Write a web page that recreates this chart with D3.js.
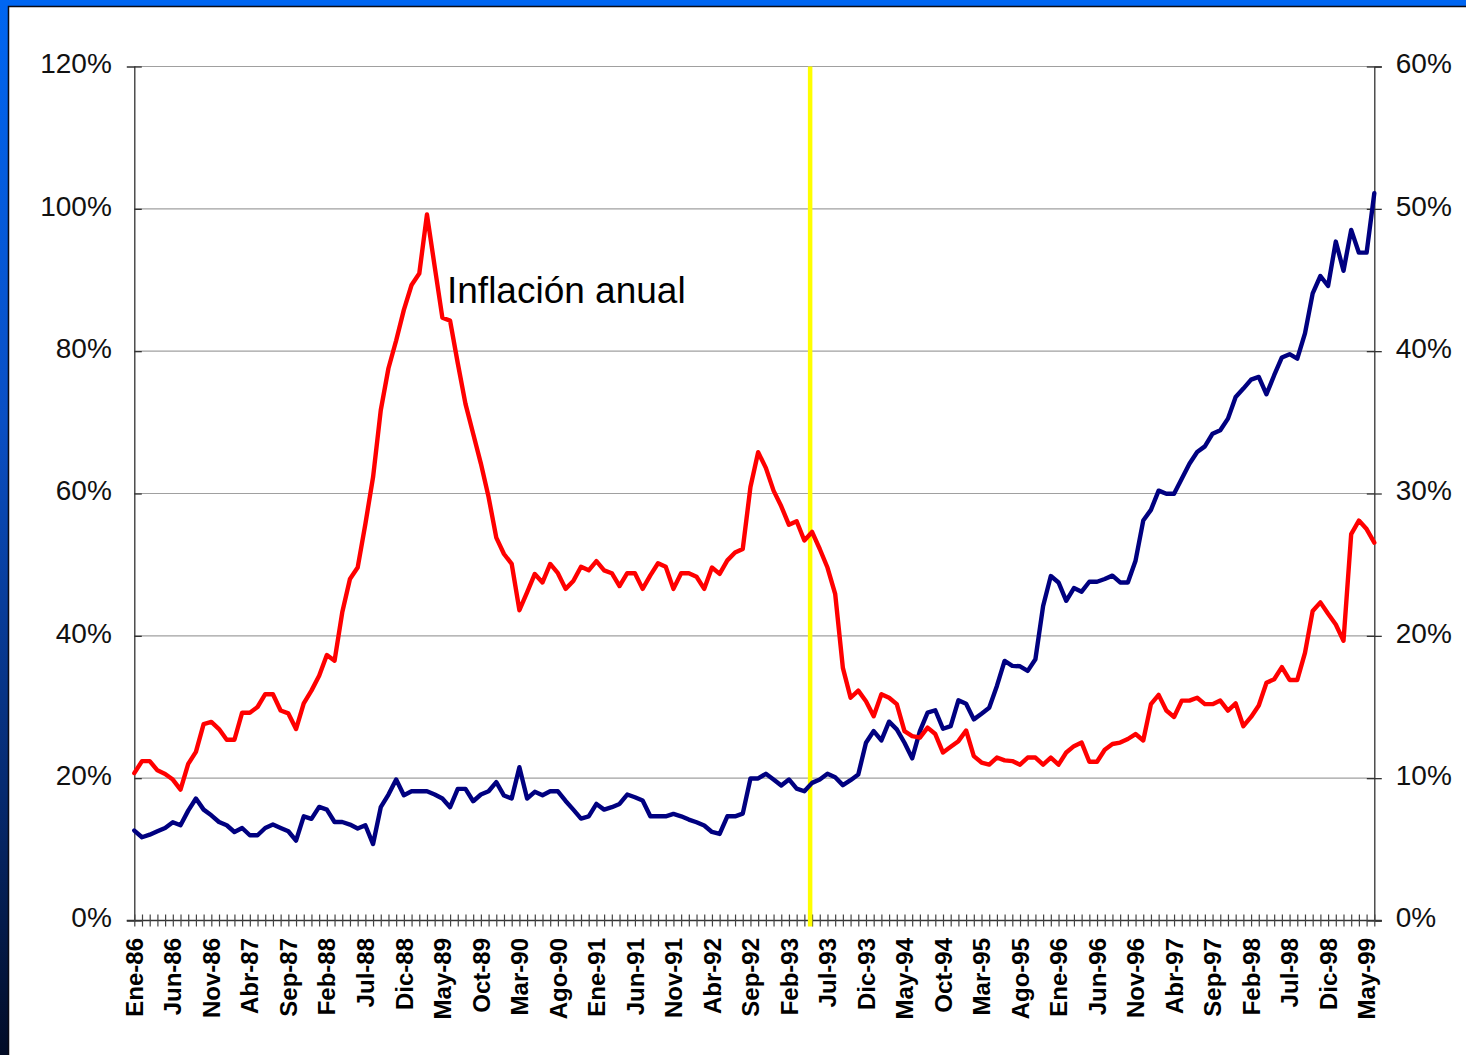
<!DOCTYPE html>
<html>
<head>
<meta charset="utf-8">
<script src="https://cdn.jsdelivr.net/npm/d3@7/dist/d3.min.js"></script>
<style>
  html, body { margin: 0; padding: 0; background: #fff; }
  svg { display: block; }
</style>
</head>
<body>
<svg id="chart" width="1466" height="1055"></svg>
<script>
// Month names (Spanish) used to build the monthly categories Ene-86 .. Jun-99
const monthNames = ["Ene","Feb","Mar","Abr","May","Jun","Jul","Ago","Sep","Oct","Nov","Dic"];
const firstYear = 1986, lastYear = 1999, lastMonthIndex = 5; // Jun-99

const categories = [];
for (let y = firstYear; y <= lastYear; y++) {
  for (let m = 0; m < 12; m++) {
    if (y === lastYear && m > lastMonthIndex) break;
    categories.push(monthNames[m] + "-" + String(y).slice(2));
  }
}

// Annual inflation, % (left axis)
const inflacionAnual = [
  20.7, 22.4, 22.4, 21.1, 20.6, 19.8, 18.4, 22.0, 23.7, 27.6,
  27.9, 26.9, 25.4, 25.4, 29.2, 29.2, 30.0, 31.8, 31.8, 29.5,
  29.1, 26.9, 30.5, 32.3, 34.4, 37.3, 36.5, 43.3, 48.0, 49.6,
  55.7, 62.3, 71.7, 77.6, 81.5, 85.8, 89.3, 90.9, 99.2, 91.9,
  84.7, 84.3, 78.3, 72.6, 68.4, 64.2, 59.5, 53.8, 51.5, 50.1,
  43.6, 46.1, 48.7, 47.5, 50.1, 48.8, 46.6, 47.7, 49.7, 49.2,
  50.5, 49.2, 48.8, 47.0, 48.8, 48.8, 46.6, 48.5, 50.2, 49.7,
  46.6, 48.8, 48.8, 48.3, 46.6, 49.6, 48.7, 50.6, 51.7, 52.2,
  60.9, 65.8, 63.6, 60.4, 58.2, 55.6, 56.1, 53.4, 54.6, 52.2,
  49.6, 45.9, 35.5, 31.3, 32.3, 30.8, 28.7, 31.8, 31.3, 30.4,
  26.6, 25.9, 25.7, 27.1, 26.2, 23.6, 24.4, 25.2, 26.7, 23.1,
  22.2, 21.9, 22.9, 22.5, 22.4, 21.9, 22.9, 22.9, 21.9, 22.9,
  21.9, 23.6, 24.5, 25.0, 22.3, 22.3, 24.0, 24.8, 25.0, 25.5,
  26.2, 25.3, 30.4, 31.7, 29.5, 28.6, 30.9, 30.9, 31.3, 30.4,
  30.4, 30.9, 29.5, 30.5, 27.3, 28.6, 30.2, 33.4, 33.9, 35.6,
  33.8, 33.8, 37.6, 43.5, 44.7, 43.1, 41.6, 39.3, 54.3, 56.2,
  55.0, 53.1
];

// Second series, % (right axis)
const serieDerecha = [
  6.32, 5.85, 6.03, 6.27, 6.50, 6.90, 6.69, 7.72, 8.57, 7.79,
  7.39, 6.92, 6.69, 6.22, 6.50, 5.99, 5.99, 6.50, 6.74, 6.50,
  6.27, 5.61, 7.32, 7.14, 7.98, 7.79, 6.92, 6.92, 6.74, 6.46,
  6.69, 5.37, 7.96, 8.85, 9.91, 8.80, 9.08, 9.08, 9.08, 8.85,
  8.57, 7.96, 9.25, 9.25, 8.38, 8.85, 9.08, 9.72, 8.78, 8.57,
  10.77, 8.57, 9.04, 8.80, 9.08, 9.08, 8.40, 7.79, 7.16, 7.32,
  8.19, 7.79, 7.96, 8.19, 8.85, 8.66, 8.43, 7.32, 7.32, 7.32,
  7.49, 7.32, 7.09, 6.90, 6.67, 6.22, 6.08, 7.32, 7.32, 7.51,
  9.98, 9.98, 10.31, 9.91, 9.48, 9.91, 9.27, 9.08, 9.67, 9.91,
  10.31, 10.07, 9.51, 9.86, 10.26, 12.49, 13.31, 12.65, 13.97, 13.43,
  12.49, 11.39, 13.31, 14.60, 14.77, 13.47, 13.66, 15.47, 15.23, 14.13,
  14.53, 14.95, 16.48, 18.24, 17.89, 17.86, 17.54, 18.36, 22.10, 24.20,
  23.75, 22.46, 23.36, 23.10, 23.80, 23.80, 23.99, 24.23, 23.75, 23.75,
  25.28, 28.10, 28.85, 30.20, 29.98, 29.98, 31.03, 32.09, 32.91, 33.31,
  34.20, 34.44, 35.26, 36.78, 37.37, 38.00, 38.19, 36.97, 38.31, 39.56,
  39.79, 39.48, 41.25, 44.06, 45.28, 44.58, 47.70, 45.65, 48.52, 46.92,
  46.92, 51.10
];

const leftTicks = [0, 20, 40, 60, 80, 100, 120];
const rightTicks = [0, 10, 20, 30, 40, 50, 60];
const labelStep = 5;            // every fifth month is labelled
const markerMonth = "May-93";   // vertical reference line
const markerShift = -0.25;      // fraction of a month step before markerMonth
const seriesLabel = "Inflación anual";

const FONT = "'Liberation Sans', Arial, Helvetica, sans-serif";
const W = 1466, H = 1055;
const plot = { left: 134.3, right: 1374.3, top: 66.5, bottom: 920.5 };

const svg = d3.select("#chart");

// ---- frame: blue band on the top and left edges ----
const defs = svg.append("defs");
const grad = defs.append("linearGradient")
  .attr("id", "frameGrad").attr("x1", 0).attr("y1", 0).attr("x2", 0).attr("y2", 1);
grad.append("stop").attr("offset", "0%").attr("stop-color", "#0066f2");
grad.append("stop").attr("offset", "40%").attr("stop-color", "#0a4fc4");
grad.append("stop").attr("offset", "75%").attr("stop-color", "#062a70");
grad.append("stop").attr("offset", "100%").attr("stop-color", "#020c26");

svg.append("rect").attr("width", W).attr("height", H).attr("fill", "url(#frameGrad)");
svg.append("rect").attr("x", 0).attr("y", 0).attr("width", W).attr("height", 6).attr("fill", "#0066f2");
svg.append("rect").attr("x", 8).attr("y", 6).attr("width", W - 8).attr("height", H - 6).attr("fill", "#ffffff");
svg.append("path")
  .attr("d", `M8.5,${H} L8.5,6.5 L${W},6.5`)
  .attr("fill", "none").attr("stroke", "#0b0b14").attr("stroke-width", 1.5);

// ---- scales ----
const x = d3.scalePoint().domain(categories).range([plot.left, plot.right]);
const yL = d3.scaleLinear().domain([0, 120]).range([plot.bottom, plot.top]);
const yR = d3.scaleLinear().domain([0, 60]).range([plot.bottom, plot.top]);

// ---- horizontal gridlines ----
svg.append("g").selectAll("line")
  .data(leftTicks.filter(d => d > 0))
  .join("line")
  .attr("x1", plot.left).attr("x2", plot.right)
  .attr("y1", d => yL(d)).attr("y2", d => yL(d))
  .attr("stroke", "#a0a0a0").attr("stroke-width", 1.2);

// ---- left axis ----
const axL = svg.append("g").attr("transform", `translate(${plot.left},0)`)
  .call(d3.axisLeft(yL).tickValues(leftTicks).tickFormat(d => d + "%").tickSize(7.5).tickPadding(15));
axL.select(".domain").attr("stroke", "#333").attr("stroke-width", 1.3);
axL.selectAll(".tick line").attr("x2", 7.5).attr("stroke", "#333").attr("stroke-width", 1.3);
axL.selectAll(".tick text")
  .attr("font-family", FONT).attr("font-size", 28).attr("fill", "#111")
  .attr("dy", "0.22em").attr("x", -22.5);

// ---- right axis ----
const axR = svg.append("g").attr("transform", `translate(${plot.right},0)`)
  .call(d3.axisRight(yR).tickValues(rightTicks).tickFormat(d => d + "%").tickSize(7.5));
axR.select(".domain").attr("stroke", "#333").attr("stroke-width", 1.3);
axR.selectAll(".tick line").attr("x2", 7.5).attr("x1", -7.5).attr("stroke", "#333").attr("stroke-width", 1.3);
axR.selectAll(".tick text")
  .attr("font-family", FONT).attr("font-size", 28).attr("fill", "#111")
  .attr("dy", "0.22em").attr("x", 21.5);

// ---- category axis ----
const axX = svg.append("g").attr("transform", `translate(0,${plot.bottom})`)
  .call(d3.axisBottom(x).tickSize(6).tickFormat(""));
axX.select(".domain").attr("stroke", "#333").attr("stroke-width", 1.3)
  .attr("d", `M${plot.left - 7.5},0H${plot.right + 7.5}`);
axX.selectAll(".tick line").attr("y1", -6).attr("y2", 6).attr("stroke", "#444").attr("stroke-width", 1.2);

svg.append("g").selectAll("text")
  .data(categories.filter((d, i) => i % labelStep === 0))
  .join("text")
  .attr("transform", d => `translate(${x(d)},938) rotate(-90)`)
  .attr("text-anchor", "end")
  .attr("dy", "0.36em")
  .attr("font-family", FONT).attr("font-size", 24).attr("font-weight", "bold")
  .attr("fill", "#000")
  .text(d => d);

// ---- vertical marker line ----
const markerX = x(markerMonth) + markerShift * x.step();
svg.append("line")
  .attr("x1", markerX).attr("x2", markerX)
  .attr("y1", plot.top).attr("y2", plot.bottom + 6)
  .attr("stroke", "#ffff00").attr("stroke-width", 4.5);

// ---- series lines ----
const lineL = d3.line().x((d, i) => x(categories[i])).y(d => yL(d));
const lineR = d3.line().x((d, i) => x(categories[i])).y(d => yR(d));

svg.append("path").datum(serieDerecha)
  .attr("d", lineR)
  .attr("fill", "none").attr("stroke", "#000080").attr("stroke-width", 4.4)
  .attr("stroke-linejoin", "round").attr("stroke-linecap", "round");

svg.append("path").datum(inflacionAnual)
  .attr("d", lineL)
  .attr("fill", "none").attr("stroke", "#ff0000").attr("stroke-width", 4.4)
  .attr("stroke-linejoin", "round").attr("stroke-linecap", "round");

// ---- series label ----
svg.append("text")
  .attr("x", 447).attr("y", 303)
  .attr("font-family", FONT).attr("font-size", 37).attr("fill", "#000")
  .text(seriesLabel);
</script>
</body>
</html>
